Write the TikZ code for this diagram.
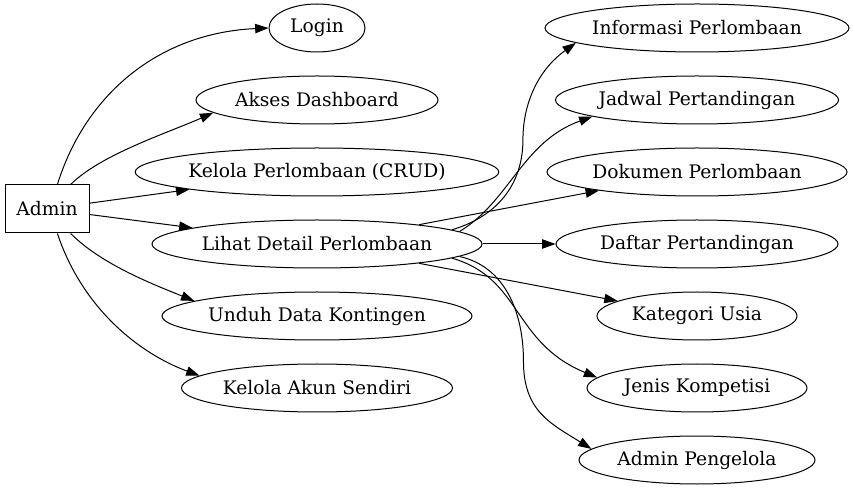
\documentclass[tikz,border=0pt]{standalone}
\usepackage{fontspec}
\setmainfont{DejaVu Serif}
\usetikzlibrary{shapes.geometric,arrows.meta}
\tikzset{
	usecase/.style={draw, ellipse, line width=0.75pt, inner sep=0pt, minimum height=36pt, font=\fontsize{14pt}{17pt}\selectfont},
	actor/.style={draw, rectangle, line width=0.75pt, minimum width=63pt, minimum height=36pt, font=\fontsize{14pt}{17pt}\selectfont},
	link/.style={-{Triangle[length=10pt,width=7pt]}, line width=0.75pt}
}

\begin{document}
\begin{tikzpicture}[x=0.75pt, y=-0.75pt]
			%%%%% START %%%%%
			
			\useasboundingbox (0,0) rectangle (853,491);
			
			\node[actor] (admin) at (47,209) {Admin};
			
			\node[usecase, minimum width=72pt] (login) at (317,28) {Login};
			\node[usecase, minimum width=181.5pt] (akses) at (317,100) {Akses Dashboard};
			\node[usecase, minimum width=271.5pt] (crud) at (317,172) {Kelola Perlombaan (CRUD)};
			\node[usecase, minimum width=247.5pt] (lihat) at (317,244) {Lihat Detail Perlombaan};
			\node[usecase, minimum width=232.5pt] (unduh) at (317,316) {Unduh Data Kontingen};
			\node[usecase, minimum width=203.25pt] (akun) at (317,388) {Kelola Akun Sendiri};
			
			\node[usecase, minimum width=228pt] (informasi) at (697,28) {Informasi Perlombaan};
			\node[usecase, minimum width=212.25pt] (jadwal) at (697,100) {Jadwal Pertandingan};
			\node[usecase, minimum width=225pt] (dokumen) at (697,172) {Dokumen Perlombaan};
			\node[usecase, minimum width=211.5pt] (daftar) at (697,244) {Daftar Pertandingan};
			\node[usecase, minimum width=150pt] (kategori) at (697,316) {Kategori Usia};
			\node[usecase, minimum width=165pt] (jenis) at (697,388) {Jenis Kompetisi};
			\node[usecase, minimum width=177pt] (pengelola) at (697,460) {Admin Pengelola};
			
			\draw[link] (admin.67) .. controls +(28,-90) and +(-110,5) .. (login.180);
			\draw[link] (admin.46) .. controls +(30,-30) and +(-45,20) .. (akses.187);
			\draw[link] (admin) -- (crud);
			\draw[link] (admin) -- (lihat);
			\draw[link] (admin.314) .. controls +(30,30) and +(-45,-18) .. (unduh.173);
			\draw[link] (admin.293) .. controls +(25,75) and +(-60,-22) .. (akun.174);
			
			\draw[link] (lihat.6) .. controls +(50,-15) and +(0,40) .. ++(71,-90)
				.. controls +(0,-40) and +(-35,25) .. (informasi.187);
			\draw[link] (lihat.5) .. controls +(50,-30) and +(-70,25) .. (jadwal.189);
			\draw[link] (lihat) -- (dokumen);
			\draw[link] (lihat) -- (daftar);
			\draw[link] (lihat) -- (kategori);
			\draw[link] (lihat.354) .. controls +(70,20) and +(-85,-35) .. (jenis.174);
			\draw[link] (lihat.355) .. controls +(45,10) and +(0,-50) .. ++(64,105)
				.. controls +(0,50) and +(-40,-25) .. (pengelola.174);
			
			%%%%% END %%%%%
\end{tikzpicture}
\end{document}
